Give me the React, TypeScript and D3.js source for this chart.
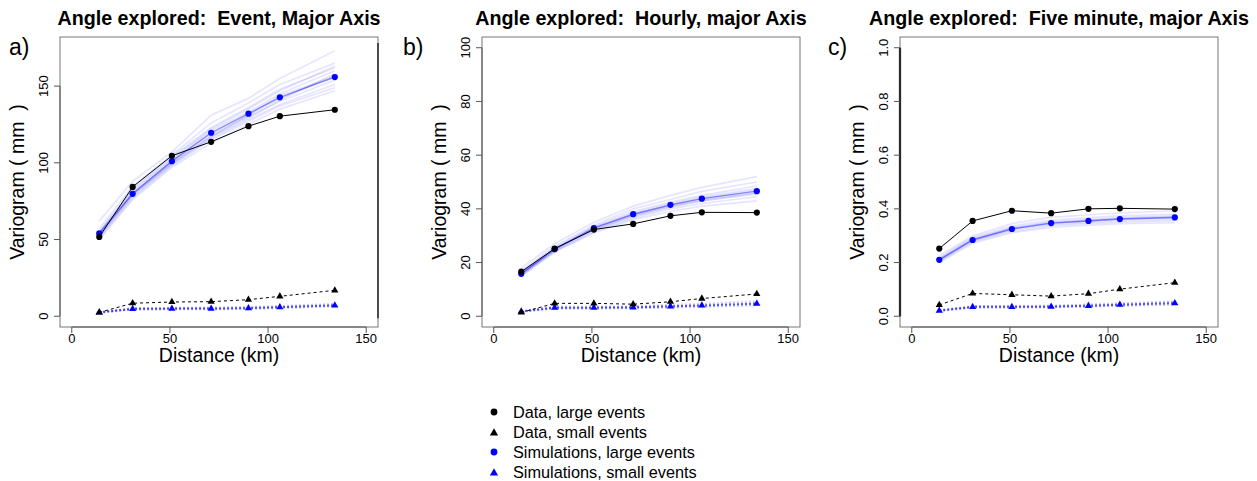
import React from "react";
import * as d3 from "d3";

// ---------- data ----------
const distances = [14, 31, 51, 71, 90, 106, 134];
const xTicks = [0, 50, 100, 150];

const titles = [
  "Angle explored:  Event, Major Axis",
  "Angle explored:  Hourly, major Axis",
  "Angle explored:  Five minute, major Axis",
];
const panelLetters = ["a)", "b)", "c)"];
const yTicksA = [0, 50, 100, 150];
const yTicksB = [0, 20, 40, 60, 80, 100];
const yTicksC = [0, 0.2, 0.4, 0.6, 0.8, 1.0];

// Panel a: Event
const dataLargeA = [51.7, 84.3, 104.6, 113.7, 123.9, 130.4, 134.6];
const simLargeA = [54, 79.8, 101.1, 119.6, 132, 142.7, 155.9];
const dataSmallA = [2.5, 8.5, 9.3, 9.5, 10.8, 13.0, 16.9];
const simSmallA = [2.5, 4.8, 5.0, 5.0, 5.3, 5.9, 7.1];
const ensLargeA = [
  [62, 88, 107, 131, 142, 155, 173],
  [57, 85, 105, 126, 139, 151, 165],
  [55, 83, 104, 123, 136, 148, 162],
  [54, 81, 102, 121, 133, 145, 160],
  [53, 80, 101, 119, 131, 142, 157],
  [52, 79, 100, 118, 130, 140, 154],
  [53, 79, 99, 116, 128, 138, 151],
  [51, 77, 98, 115, 127, 137, 149],
  [50, 76, 97, 113, 125, 135, 147],
  [55, 82, 103, 122, 135, 147, 163],
  [54, 80, 100, 117, 129, 141, 158],
  [52, 78, 99, 117, 131, 144, 156],
];
const ensSmallA = [
  [2.7, 5.4, 5.6, 5.7, 6.1, 6.8, 8.1],
  [2.3, 4.2, 4.4, 4.4, 4.6, 5.2, 6.3],
  [2.6, 5.1, 5.3, 5.4, 5.7, 6.4, 7.7],
  [2.4, 4.5, 4.7, 4.7, 5.0, 5.6, 6.8],
];

// Panel b: Hourly
const dataLargeB = [16.6, 25.2, 32.3, 34.4, 37.4, 38.7, 38.6];
const simLargeB = [15.8, 25, 32.8, 38, 41.5, 43.8, 46.6];
const dataSmallB = [1.4, 4.8, 4.8, 4.5, 5.4, 6.6, 8.3];
const simSmallB = [1.8, 3.2, 3.2, 3.3, 3.7, 4.0, 4.7];
const ensLargeB = [
  [18, 27, 35, 41, 45, 48, 52],
  [17, 26, 34, 40, 43.5, 46.5, 50],
  [16.5, 25.5, 33.5, 39, 42.5, 45, 48.5],
  [16, 25, 33, 38, 41.5, 44, 47],
  [16, 25, 32.5, 37.5, 41, 43.5, 46],
  [15.5, 24.5, 32, 37, 40.5, 43, 45.5],
  [15, 24, 31.5, 36.5, 40, 42, 44.5],
  [15, 24, 31, 36, 39, 41, 43],
  [16, 25, 33, 38.5, 42, 44.5, 47.5],
  [15.5, 24.5, 32, 37.5, 41, 43, 46],
];
const ensSmallB = [
  [2.0, 3.6, 3.6, 3.8, 4.3, 4.7, 5.6],
  [1.6, 2.8, 2.8, 2.9, 3.2, 3.4, 4.0],
  [1.9, 3.4, 3.4, 3.5, 4.0, 4.3, 5.1],
  [1.7, 3.0, 3.0, 3.1, 3.4, 3.7, 4.3],
];

// Panel c: Five minute
const dataLargeC = [0.252, 0.355, 0.393, 0.384, 0.4, 0.402, 0.399];
const simLargeC = [0.21, 0.284, 0.325, 0.347, 0.355, 0.362, 0.368];
const dataSmallC = [0.042, 0.085, 0.08, 0.075, 0.084, 0.101, 0.125];
const simSmallC = [0.021, 0.035, 0.035, 0.036, 0.039, 0.043, 0.049];
const ensLargeC = [
  [0.225, 0.3, 0.345, 0.368, 0.378, 0.385, 0.392],
  [0.218, 0.294, 0.336, 0.358, 0.367, 0.374, 0.38],
  [0.214, 0.289, 0.33, 0.352, 0.36, 0.367, 0.374],
  [0.21, 0.285, 0.326, 0.347, 0.355, 0.362, 0.368],
  [0.207, 0.281, 0.321, 0.342, 0.35, 0.357, 0.362],
  [0.204, 0.277, 0.316, 0.337, 0.345, 0.351, 0.356],
  [0.2, 0.272, 0.311, 0.331, 0.339, 0.345, 0.349],
  [0.212, 0.287, 0.328, 0.35, 0.358, 0.365, 0.371],
];
const ensSmallC = [
  [0.023, 0.038, 0.039, 0.04, 0.044, 0.049, 0.056],
  [0.019, 0.032, 0.032, 0.033, 0.035, 0.038, 0.043],
  [0.022, 0.037, 0.037, 0.038, 0.042, 0.046, 0.053],
  [0.02, 0.033, 0.033, 0.034, 0.037, 0.04, 0.045],
];

const legendLabels = [
  "Data, large events",
  "Data, small events",
  "Simulations, large events",
  "Simulations, small events",
];

// ---------- layout ----------
const FONT = "'Liberation Sans', Arial, Helvetica, sans-serif";
const BOX_TOP = 37;
const BOX_BOTTOM = 327;
const BOX_W = 318;

type PanelProps = {
  left: number;
  letterX: number;
  title: string;
  letter: string;
  yMax: number;
  yTicks: number[];
  yFmt: (v: number) => string;
  dataLarge: number[];
  simLarge: number[];
  dataSmall: number[];
  simSmall: number[];
  ensLarge: number[][];
  ensSmall: number[][];
  darkEdge: string;
};

function Triangle({ cx, cy, fill, s = 1 }: { cx: number; cy: number; fill: string; s?: number }) {
  const r = 4.2 * s;
  const xc = 3.6 * s;
  const yc = 2.1 * s;
  return (
    <path
      d={`M${cx},${cy - r}L${cx + xc},${cy + yc}L${cx - xc},${cy + yc}Z`}
      fill={fill}
    />
  );
}

function Panel(p: PanelProps) {
  const x = d3.scaleLinear().domain([-6, 156]).range([p.left, p.left + BOX_W]);
  const y = d3
    .scaleLinear()
    .domain([-0.04 * p.yMax, 1.04 * p.yMax])
    .range([BOX_BOTTOM, BOX_TOP]);
  const line = d3
    .line<number>()
    .x((_, i) => x(distances[i]))
    .y((d) => y(d));
  const boxCenterX = p.left + BOX_W / 2;
  const boxCenterY = (BOX_TOP + BOX_BOTTOM) / 2;
  const axisCol = "#555";

  return (
    <g>
      <text
        x={boxCenterX}
        y={25}
        textAnchor="middle"
        fontFamily={FONT}
        fontWeight="bold"
        fontSize={19.7}
        style={{ whiteSpace: "pre" }}
      >
        {p.title}
      </text>
      <text x={p.letterX} y={55} fontFamily={FONT} fontSize={23}>
        {p.letter}
      </text>

      {/* box */}
      <rect
        x={p.left}
        y={BOX_TOP}
        width={BOX_W}
        height={BOX_BOTTOM - BOX_TOP}
        fill="none"
        stroke="#777"
        strokeWidth={1}
      />
      {p.darkEdge === "right" && (
        <line
          x1={p.left + BOX_W}
          x2={p.left + BOX_W}
          y1={43}
          y2={y(0) + 2}
          stroke="#000"
          strokeWidth={1.2}
        />
      )}
      {p.darkEdge === "left" && (
        <line
          x1={p.left}
          x2={p.left}
          y1={y(p.yTicks[p.yTicks.length - 1])}
          y2={y(0)}
          stroke="#000"
          strokeWidth={2.2}
        />
      )}

      {/* x axis */}
      <line
        x1={x(xTicks[0])}
        x2={x(xTicks[xTicks.length - 1])}
        y1={BOX_BOTTOM}
        y2={BOX_BOTTOM}
        stroke={axisCol}
      />
      {xTicks.map((t) => (
        <g key={"xt" + t}>
          <line x1={x(t)} x2={x(t)} y1={BOX_BOTTOM} y2={BOX_BOTTOM + 6} stroke={axisCol} />
          <text
            x={x(t)}
            y={343}
            textAnchor="middle"
            fontFamily={FONT}
            fontSize={13}
          >
            {t}
          </text>
        </g>
      ))}
      <text
        x={boxCenterX}
        y={362}
        textAnchor="middle"
        fontFamily={FONT}
        fontSize={19.5}
      >
        Distance (km)
      </text>

      {/* y axis */}
      <line
        x1={p.left}
        x2={p.left}
        y1={y(p.yTicks[0])}
        y2={y(p.yTicks[p.yTicks.length - 1])}
        stroke={axisCol}
      />
      {p.yTicks.map((t) => (
        <g key={"yt" + t}>
          <line x1={p.left - 6} x2={p.left} y1={y(t)} y2={y(t)} stroke={axisCol} />
          <text
            transform={`translate(${p.left - 12},${y(t)}) rotate(-90)`}
            textAnchor="middle"
            fontFamily={FONT}
            fontSize={13}
          >
            {p.yFmt(t)}
          </text>
        </g>
      ))}
      <text
        transform={`translate(${p.left - 36},${boxCenterY}) rotate(-90)`}
        textAnchor="middle"
        fontFamily={FONT}
        fontSize={19.5}
        style={{ whiteSpace: "pre" }}
      >
        {"Variogram ( mm  )"}
      </text>

      {/* simulation ensembles */}
      {p.ensLarge.map((s, i) => (
        <path
          key={"el" + i}
          d={line(s) || ""}
          fill="none"
          stroke="#0000ff"
          strokeOpacity={0.1}
          strokeWidth={1.7}
        />
      ))}
      {p.ensSmall.map((s, i) => (
        <path
          key={"es" + i}
          d={line(s) || ""}
          fill="none"
          stroke="#0000ff"
          strokeOpacity={0.15}
          strokeWidth={2}
          strokeDasharray="2,2"
        />
      ))}
      <path
        d={line(p.simLarge) || ""}
        fill="none"
        stroke="#0000ff"
        strokeOpacity={0.45}
        strokeWidth={1.4}
      />
      <path
        d={line(p.simSmall) || ""}
        fill="none"
        stroke="#0000ff"
        strokeOpacity={0.6}
        strokeWidth={2}
        strokeDasharray="2,2"
      />
      {p.simLarge.map((v, i) => (
        <circle key={"sl" + i} cx={x(distances[i])} cy={y(v)} r={3.1} fill="#0000ff" />
      ))}
      {p.simSmall.map((v, i) => (
        <Triangle key={"ss" + i} cx={x(distances[i])} cy={y(v)} fill="#0000ff" />
      ))}

      {/* data */}
      <path d={line(p.dataLarge) || ""} fill="none" stroke="#000" strokeWidth={1} />
      <path
        d={line(p.dataSmall) || ""}
        fill="none"
        stroke="#000"
        strokeWidth={1}
        strokeDasharray="3,3"
      />
      {p.dataLarge.map((v, i) => (
        <circle key={"dl" + i} cx={x(distances[i])} cy={y(v)} r={3.1} fill="#000" />
      ))}
      {p.dataSmall.map((v, i) => (
        <Triangle key={"ds" + i} cx={x(distances[i])} cy={y(v)} fill="#000" />
      ))}
    </g>
  );
}

export default function App() {
  const fmtInt = (v: number) => String(v);
  const fmt1 = (v: number) => v.toFixed(1);
  const legendColors = ["#000", "#000", "#0000ff", "#0000ff"];
  const legendShapes = ["circle", "triangle", "circle", "triangle"];
  const legendY = d3.scaleLinear().domain([0, 3]).range([412, 472]);

  return (
    <svg
      width={1257}
      height={481}
      style={{ position: "absolute", left: 0, top: 0, background: "#fff" }}
    >
      <rect width={1257} height={481} fill="#fff" />
      <Panel
        left={60}
        letterX={9}
        title={titles[0]}
        letter={panelLetters[0]}
        yMax={175}
        yTicks={yTicksA}
        yFmt={fmtInt}
        dataLarge={dataLargeA}
        simLarge={simLargeA}
        dataSmall={dataSmallA}
        simSmall={simSmallA}
        ensLarge={ensLargeA}
        ensSmall={ensSmallA}
        darkEdge="right"
      />
      <Panel
        left={482}
        letterX={403}
        title={titles[1]}
        letter={panelLetters[1]}
        yMax={100}
        yTicks={yTicksB}
        yFmt={fmtInt}
        dataLarge={dataLargeB}
        simLarge={simLargeB}
        dataSmall={dataSmallB}
        simSmall={simSmallB}
        ensLarge={ensLargeB}
        ensSmall={ensSmallB}
        darkEdge="none"
      />
      <Panel
        left={900}
        letterX={828}
        title={titles[2]}
        letter={panelLetters[2]}
        yMax={1}
        yTicks={yTicksC}
        yFmt={fmt1}
        dataLarge={dataLargeC}
        simLarge={simLargeC}
        dataSmall={dataSmallC}
        simSmall={simSmallC}
        ensLarge={ensLargeC}
        ensSmall={ensSmallC}
        darkEdge="left"
      />

      {/* legend */}
      {legendLabels.map((lab, i) => {
        const cy = legendY(i);
        return (
          <g key={"lg" + i}>
            {legendShapes[i] === "circle" ? (
              <circle cx={494} cy={cy} r={3.4} fill={legendColors[i]} />
            ) : (
              <Triangle cx={494} cy={cy + 1} fill={legendColors[i]} s={1.15} />
            )}
            <text x={513} y={cy + 5.8} fontFamily={FONT} fontSize={16.3}>
              {lab}
            </text>
          </g>
        );
      })}
    </svg>
  );
}
